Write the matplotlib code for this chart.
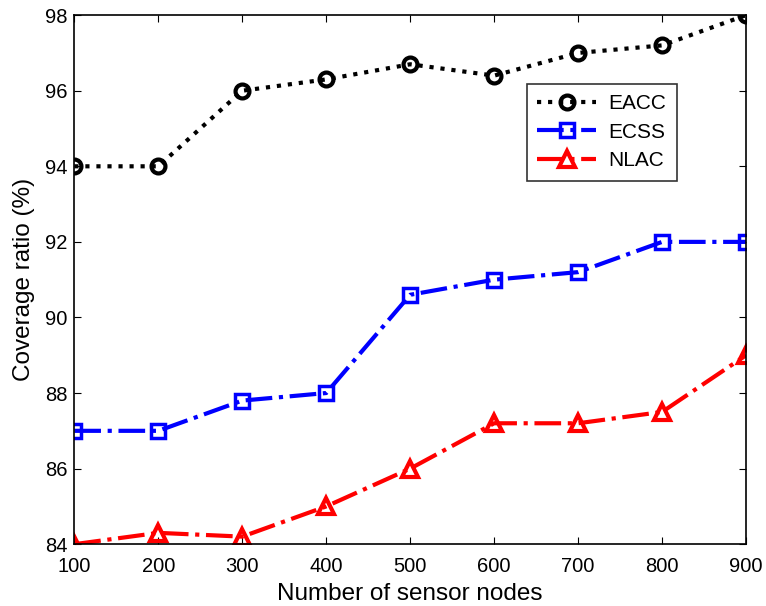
import numpy as np
import matplotlib.pyplot as plt

plt.rcParams['font.family'] = ['Liberation Sans', 'DejaVu Sans']

nodes = [100, 200, 300, 400, 500, 600, 700, 800, 900]
eacc = [94.0, 94.0, 96.0, 96.3, 96.7, 96.4, 97.0, 97.2, 98.0]
ecss = [87.0, 87.0, 87.8, 88.0, 90.6, 91.0, 91.2, 92.0, 92.0]
nlac = [84.0, 84.3, 84.2, 85.0, 86.0, 87.2, 87.2, 87.5, 89.0]

fig = plt.figure(figsize=(7.66, 6.06), dpi=100)
ax = fig.add_axes([0.097, 0.102, 0.877, 0.873])

ax.plot(nodes, eacc, color="k", linestyle=":", linewidth=3, marker="o",
        markersize=10, markerfacecolor="none", markeredgewidth=3, label="EACC")
ax.plot(nodes, ecss, color="b", linestyle="-.", linewidth=3, marker="s",
        markersize=10, markerfacecolor="none", markeredgewidth=2.5, label="ECSS")
ax.plot(nodes, nlac, color="r", linestyle="-.", linewidth=3, marker="^",
        markersize=12, markerfacecolor="none", markeredgewidth=3, label="NLAC")

ax.set_xlim(100, 900)
ax.set_ylim(84, 98)
ax.set_xticks(nodes)
ax.set_yticks(np.arange(84, 99, 2))
ax.tick_params(direction="in", top=True, right=True, labelsize=14.5, length=5)
ax.tick_params(axis="x", pad=9)
ax.tick_params(axis="y", pad=5)
for s in ax.spines.values():
    s.set_linewidth(1.2)

ax.set_xlabel("Number of sensor nodes", fontsize=17.5, labelpad=5)
ax.set_ylabel("Coverage ratio (%)", fontsize=17.5, labelpad=7)

leg = ax.legend(loc="upper left", bbox_to_anchor=(0.674, 0.870), fontsize=15,
                frameon=True, fancybox=False, edgecolor="k", handlelength=2.8,
                borderpad=0.5, labelspacing=0.45, handletextpad=0.6,
                borderaxespad=0)
leg.get_frame().set_linewidth(1.2)

plt.savefig("out.png", dpi=100)
